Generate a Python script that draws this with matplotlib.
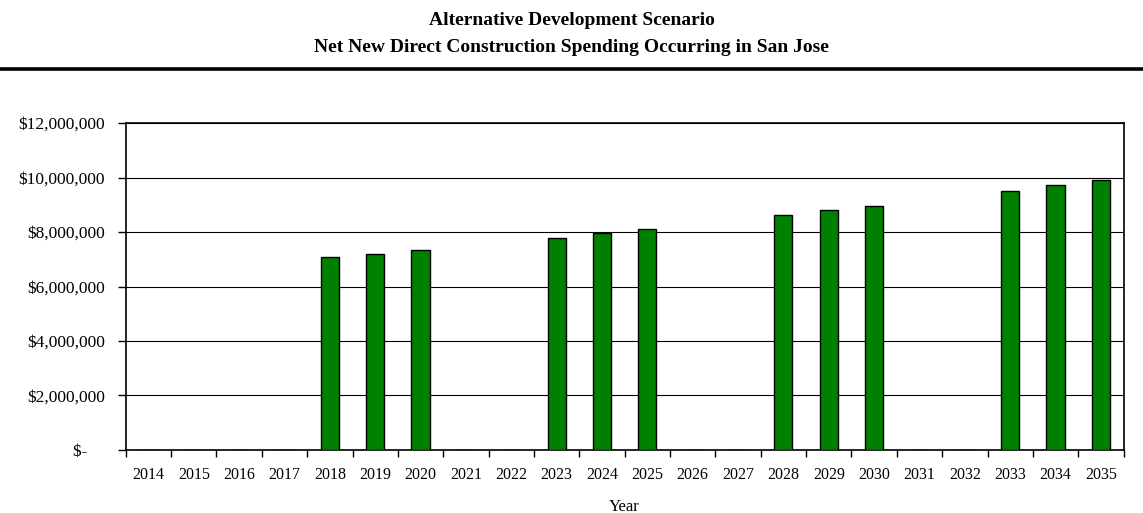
import matplotlib.pyplot as plt
from matplotlib.lines import Line2D
from matplotlib.ticker import FuncFormatter

years = list(range(2014, 2036))
spending = [0, 0, 0, 0, 7.07e6, 7.20e6, 7.35e6, 0, 0, 7.79e6, 7.95e6, 8.11e6,
            0, 0, 8.61e6, 8.80e6, 8.97e6, 0, 0, 9.52e6, 9.71e6, 9.90e6]
y_ticks = [0, 2e6, 4e6, 6e6, 8e6, 10e6, 12e6]

title_lines = ["Alternative Development Scenario",
               "Net New Direct Construction Spending Occurring in San Jose"]

plt.rcParams["font.family"] = ["Liberation Serif", "DejaVu Serif"]


def money(v, pos):
    if v == 0:
        return "$-    "
    return f"${v:,.0f}"


fig = plt.figure(figsize=(11.43, 5.13), dpi=100)
ax = fig.add_axes([0.110, 0.123, 0.873, 0.637])

x = list(range(len(years)))
ax.bar(x, spending, width=0.4, color="#008000", edgecolor="black",
       linewidth=1.0, zorder=3)

ax.set_xlim(-0.5, len(years) - 0.5)
ax.set_ylim(0, 12e6)
ax.set_yticks(y_ticks)
ax.yaxis.set_major_formatter(FuncFormatter(money))
ax.grid(axis="y", color="black", linewidth=0.8, zorder=0)

# Excel style: ticks between categories, labels centred on categories
ax.set_xticks([i - 0.5 for i in range(len(years) + 1)])
ax.set_xticklabels([])
ax.set_xticks(x, minor=True)
ax.set_xticklabels([str(y) for y in years], minor=True)
ax.tick_params(axis="x", which="minor", length=0, pad=12, labelsize=11.5)
ax.tick_params(axis="x", which="major", length=5, width=1, direction="out")
ax.tick_params(axis="y", length=6, width=1, labelsize=12.5, pad=9)

for side in ["left", "right", "top", "bottom"]:
    ax.spines[side].set_linewidth(1.2)
    ax.spines[side].set_color("black")

ax.set_xlabel("Year", fontsize=12, labelpad=12)

fig.text(0.5, 1 - 25 / 513, title_lines[0], ha="center", va="baseline",
         fontsize=14, fontweight="bold")
fig.text(0.5, 1 - 52 / 513, title_lines[1], ha="center", va="baseline",
         fontsize=14, fontweight="bold")
fig.add_artist(Line2D([0, 1], [1 - 68.5 / 513, 1 - 68.5 / 513], color="black",
                      linewidth=2.6, transform=fig.transFigure))

fig.savefig("out.png", dpi=100)
